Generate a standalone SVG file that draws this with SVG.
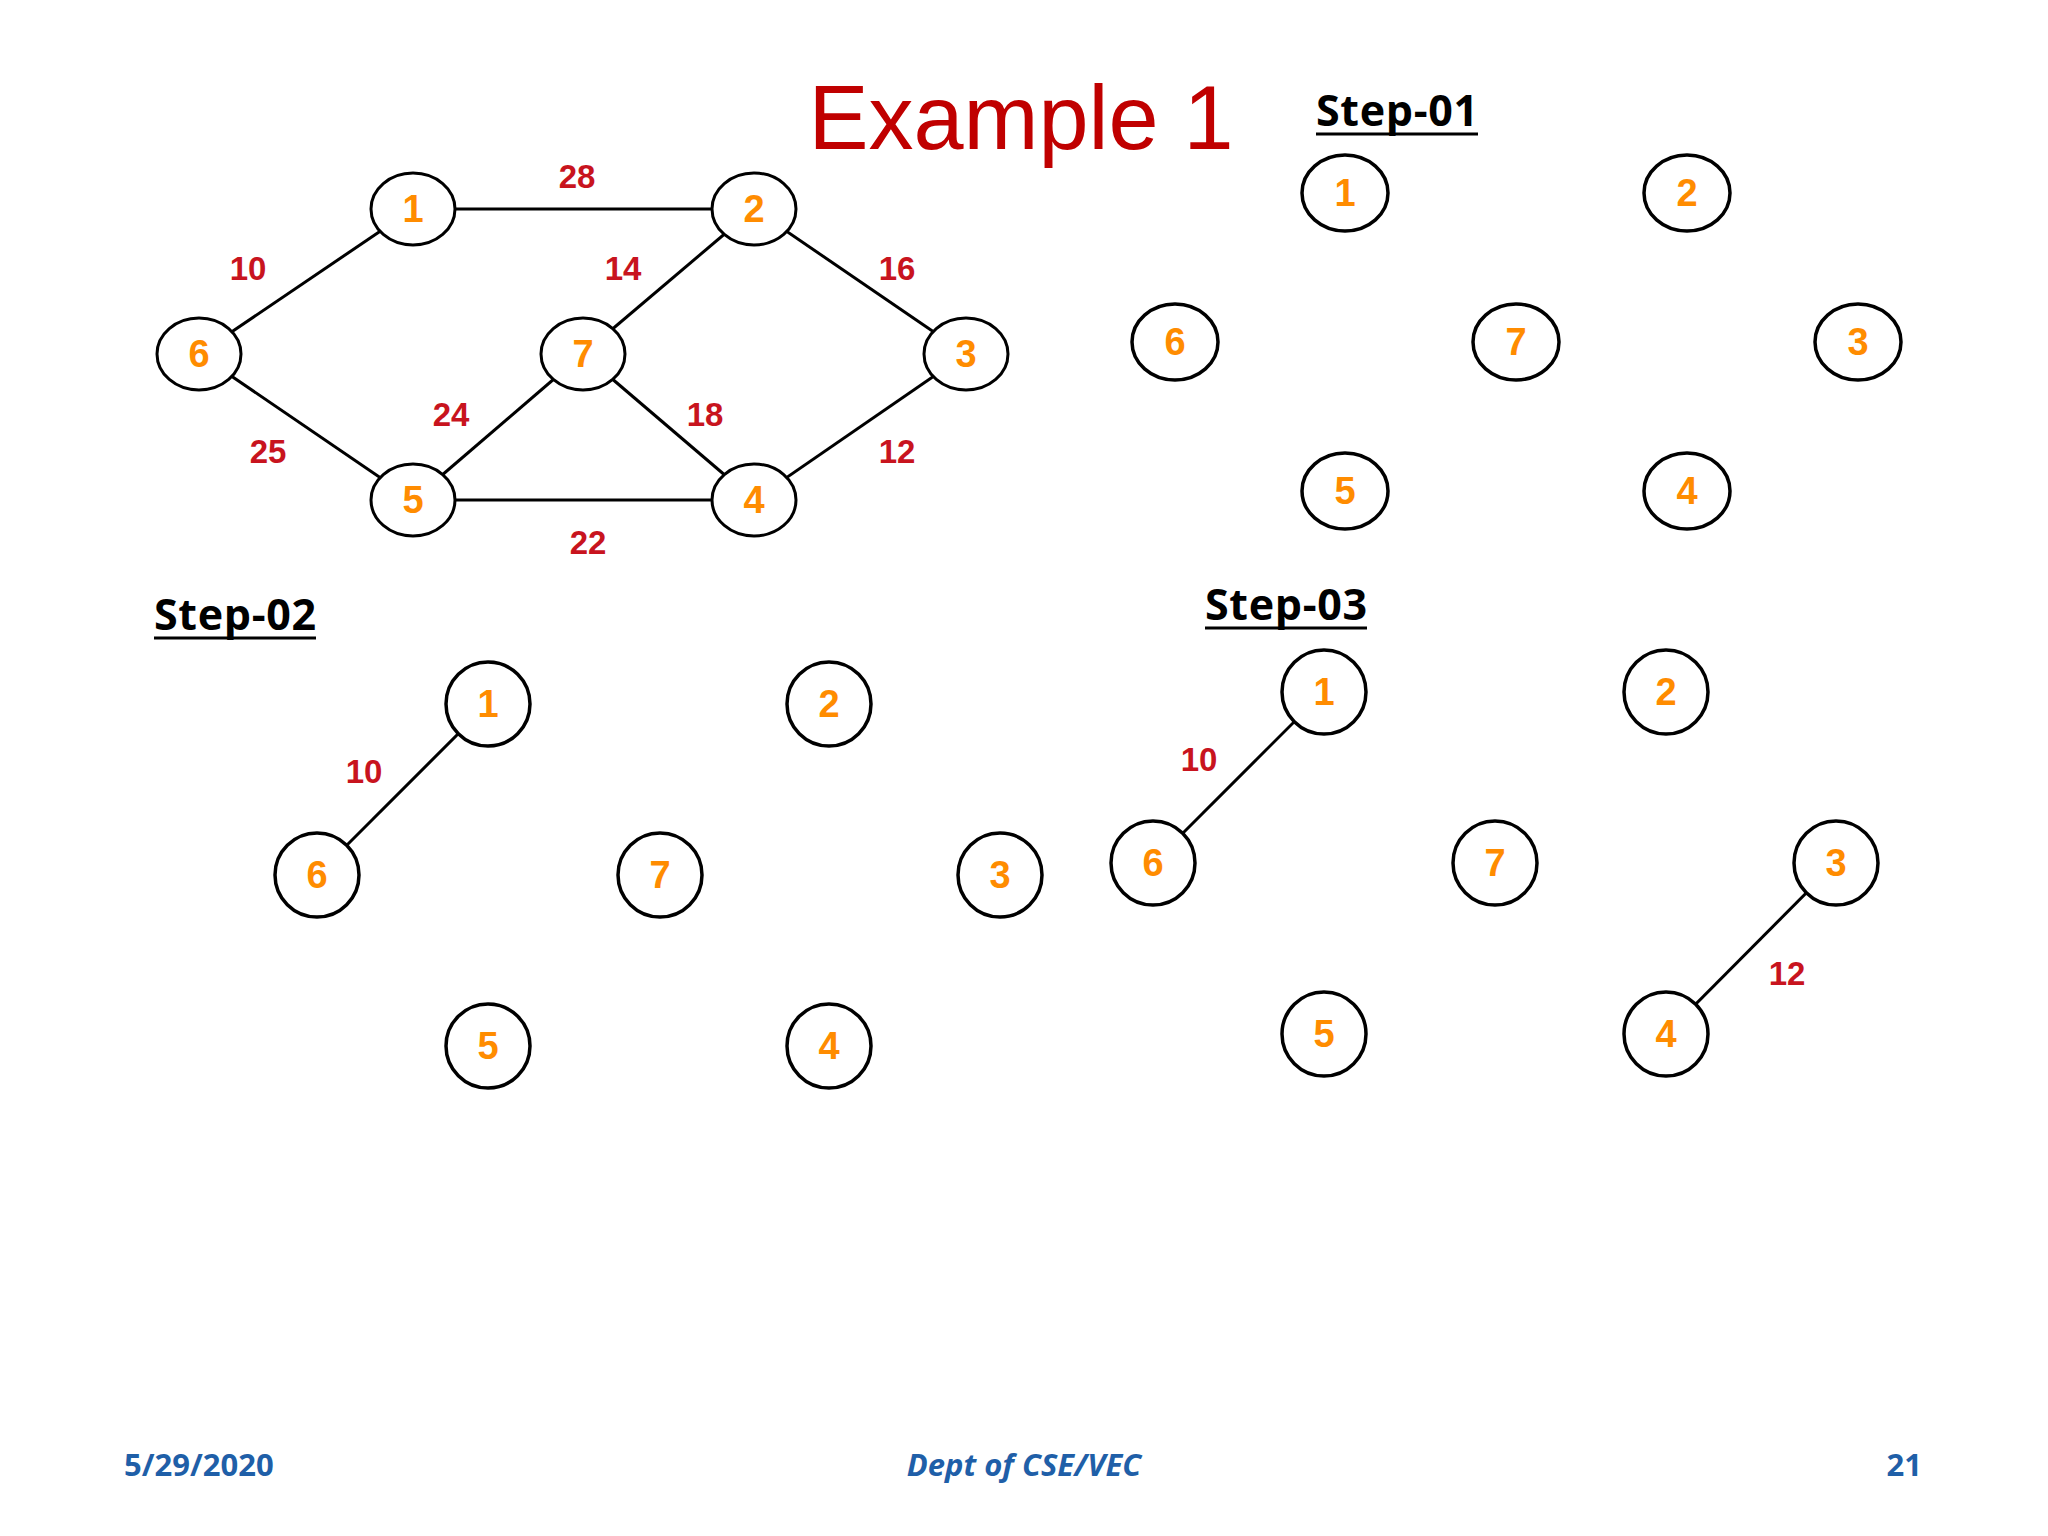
<svg xmlns="http://www.w3.org/2000/svg" width="2048" height="1536" viewBox="0 0 2048 1536">
<style>
.n ellipse,.n circle{fill:#fff;stroke:#000;stroke-width:3}
#g1 ellipse,#g2 circle,#g3 circle{stroke-width:3.5}
.n text{font-family:"Liberation Sans",Arial,sans-serif;font-weight:bold;font-size:38px;fill:#ff8c00;text-anchor:middle;dominant-baseline:central}
.e line{stroke:#000;stroke-width:3}
.w{font-family:"Liberation Sans",Arial,sans-serif;font-weight:bold;font-size:33px;fill:#c8141e;text-anchor:middle;dominant-baseline:central}
.s{font-family:"Open Sans","Liberation Sans",sans-serif;font-weight:bold;font-size:43px;fill:#000}
.u{stroke:#000;stroke-width:3}
.f{font-family:"Open Sans","Liberation Sans",sans-serif;font-weight:bold;font-size:31px;fill:#1f5fa8}
</style>
<rect width="2048" height="1536" fill="#fff"/>
<text x="1021" y="118" font-family="Liberation Sans,Arial,sans-serif" font-size="90" fill="#c00000" text-anchor="middle" dominant-baseline="central">Example 1</text>
<text class="s" x="1316" y="126" textLength="162">Step-01</text>
<line class="u" x1="1316" y1="134" x2="1478" y2="134"/>
<text class="s" x="154" y="630" textLength="162">Step-02</text>
<line class="u" x1="154" y1="638" x2="316" y2="638"/>
<text class="s" x="1205" y="620" textLength="162">Step-03</text>
<line class="u" x1="1205" y1="628" x2="1367" y2="628"/>
<g id="connectors" class="e">
<line x1="413" y1="209" x2="754" y2="209"/>
<line x1="413" y1="209" x2="199" y2="354"/>
<line x1="754" y1="209" x2="583" y2="354"/>
<line x1="754" y1="209" x2="966" y2="354"/>
<line x1="199" y1="354" x2="413" y2="500"/>
<line x1="583" y1="354" x2="413" y2="500"/>
<line x1="583" y1="354" x2="754" y2="500"/>
<line x1="966" y1="354" x2="754" y2="500"/>
<line x1="413" y1="500" x2="754" y2="500"/>
<line x1="488" y1="704" x2="317" y2="875"/>
<line x1="1324" y1="692" x2="1153" y2="863"/>
<line x1="1836" y1="863" x2="1666" y2="1034"/>
</g>
<g id="weights">
<text class="w" x="577" y="176">28</text>
<text class="w" x="248" y="268">10</text>
<text class="w" x="623" y="268">14</text>
<text class="w" x="897" y="268">16</text>
<text class="w" x="451" y="414">24</text>
<text class="w" x="705" y="414">18</text>
<text class="w" x="268" y="451">25</text>
<text class="w" x="897" y="451">12</text>
<text class="w" x="588" y="542">22</text>
<text class="w" x="364" y="771">10</text>
<text class="w" x="1199" y="759">10</text>
<text class="w" x="1787" y="973">12</text>
</g>
<g id="g0" class="n">
<g id="a1"><ellipse cx="413" cy="209" rx="42" ry="36"/><text x="413" y="209">1</text></g>
<g id="a2"><ellipse cx="754" cy="209" rx="42" ry="36"/><text x="754" y="209">2</text></g>
<g id="a6"><ellipse cx="199" cy="354" rx="42" ry="36"/><text x="199" y="354">6</text></g>
<g id="a7"><ellipse cx="583" cy="354" rx="42" ry="36"/><text x="583" y="354">7</text></g>
<g id="a3"><ellipse cx="966" cy="354" rx="42" ry="36"/><text x="966" y="354">3</text></g>
<g id="a5"><ellipse cx="413" cy="500" rx="42" ry="36"/><text x="413" y="500">5</text></g>
<g id="a4"><ellipse cx="754" cy="500" rx="42" ry="36"/><text x="754" y="500">4</text></g>
</g>
<g id="g1" class="n">
<g id="b1"><ellipse cx="1345" cy="193" rx="43" ry="38"/><text x="1345" y="193">1</text></g>
<g id="b2"><ellipse cx="1687" cy="193" rx="43" ry="38"/><text x="1687" y="193">2</text></g>
<g id="b6"><ellipse cx="1175" cy="342" rx="43" ry="38"/><text x="1175" y="342">6</text></g>
<g id="b7"><ellipse cx="1516" cy="342" rx="43" ry="38"/><text x="1516" y="342">7</text></g>
<g id="b3"><ellipse cx="1858" cy="342" rx="43" ry="38"/><text x="1858" y="342">3</text></g>
<g id="b5"><ellipse cx="1345" cy="491" rx="43" ry="38"/><text x="1345" y="491">5</text></g>
<g id="b4"><ellipse cx="1687" cy="491" rx="43" ry="38"/><text x="1687" y="491">4</text></g>
</g>
<g id="g2" class="n">
<g id="c1"><circle cx="488" cy="704" r="42"/><text x="488" y="704">1</text></g>
<g id="c2"><circle cx="829" cy="704" r="42"/><text x="829" y="704">2</text></g>
<g id="c6"><circle cx="317" cy="875" r="42"/><text x="317" y="875">6</text></g>
<g id="c7"><circle cx="660" cy="875" r="42"/><text x="660" y="875">7</text></g>
<g id="c3"><circle cx="1000" cy="875" r="42"/><text x="1000" y="875">3</text></g>
<g id="c5"><circle cx="488" cy="1046" r="42"/><text x="488" y="1046">5</text></g>
<g id="c4"><circle cx="829" cy="1046" r="42"/><text x="829" y="1046">4</text></g>
</g>
<g id="g3" class="n">
<g id="d1"><circle cx="1324" cy="692" r="42"/><text x="1324" y="692">1</text></g>
<g id="d2"><circle cx="1666" cy="692" r="42"/><text x="1666" y="692">2</text></g>
<g id="d6"><circle cx="1153" cy="863" r="42"/><text x="1153" y="863">6</text></g>
<g id="d7"><circle cx="1495" cy="863" r="42"/><text x="1495" y="863">7</text></g>
<g id="d3"><circle cx="1836" cy="863" r="42"/><text x="1836" y="863">3</text></g>
<g id="d5"><circle cx="1324" cy="1034" r="42"/><text x="1324" y="1034">5</text></g>
<g id="d4"><circle cx="1666" cy="1034" r="42"/><text x="1666" y="1034">4</text></g>
</g>
<text class="f" x="124" y="1476">5/29/2020</text>
<text class="f" x="1024" y="1476" text-anchor="middle" font-style="italic">Dept of CSE/VEC</text>
<text class="f" x="1922" y="1476" text-anchor="end">21</text>
</svg>
